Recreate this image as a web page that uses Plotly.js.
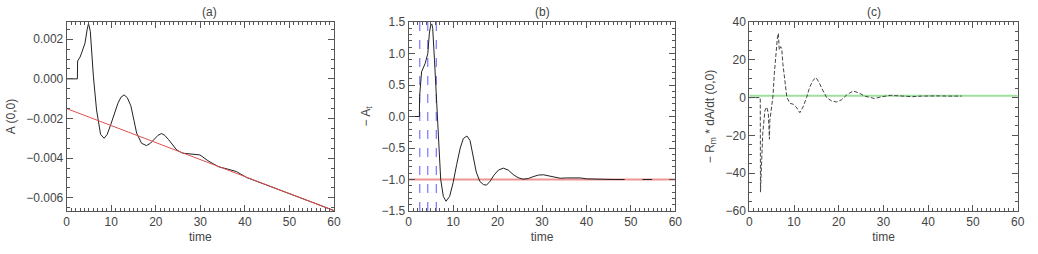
<!DOCTYPE html>
<html>
<head>
<meta charset="utf-8">
<script src="https://cdn.plot.ly/plotly-3.0.1.min.js"></script>
<style>html,body{margin:0;padding:0;background:#fff;}#plot{width:1038px;height:254px;}</style>
</head>
<body>
<div id="plot"></div>
<script>
// Panel (a): A(0,0) vs time
var tA = [0, 2.4, 2.45, 3.0, 3.5, 4.1, 4.6, 4.9, 5.3, 5.7, 6.0, 6.7, 7.6, 8.4, 9.1, 9.9, 10.7, 11.5, 12.2, 12.9, 13.6, 14.4, 15.1, 15.7, 16.8, 17.9, 18.8, 19.6, 20.5, 21.3, 22.0, 22.8, 23.8, 24.7, 26.0, 28.0, 29.9, 31.7, 34.0, 36.2, 38.1, 40.4, 45, 50, 55, 60];
var aVals = [0, 0, 0.0009, 0.0011, 0.0014, 0.0018, 0.0025, 0.0028, 0.0024, 0.0011, 0.0001, -0.00157, -0.0028, -0.0030, -0.0028, -0.0023, -0.00175, -0.00123, -0.00092, -0.00081, -0.00095, -0.00136, -0.0021, -0.00274, -0.00325, -0.00337, -0.00325, -0.00308, -0.00285, -0.00276, -0.00285, -0.00305, -0.00335, -0.00359, -0.00375, -0.00379, -0.00384, -0.00413, -0.00443, -0.00456, -0.00468, -0.00498, -0.00536, -0.00579, -0.00622, -0.00665];
var fitT = [0, 60];
var fitA = [-0.0015, -0.00665];

// Panel (b): -A_t vs time
var tB = [0, 2.4, 2.45, 2.9, 3.7, 4.3, 4.65, 4.95, 5.2, 5.4, 5.8, 6.3, 6.7, 7.2, 7.8, 8.4, 9.2, 10.0, 10.8, 11.6, 12.3, 13.1, 13.8, 14.5, 15.2, 16.0, 16.8, 17.5, 18.3, 19.2, 20.2, 21.3, 22.4, 23.5, 24.6, 25.7, 26.9, 28.0, 29.2, 30.3, 31.5, 32.8, 34.1, 35.5, 37.1, 38.6, 40.1, 42, 44, 46, 48.6, 50, 52.6, 54.8];
var bVals = [0, 0, 0.32, 0.71, 0.84, 1.0, 1.32, 1.45, 1.47, 1.40, 0.90, 0.26, -0.37, -1.0, -1.27, -1.345, -1.27, -1.05, -0.76, -0.5, -0.35, -0.31, -0.38, -0.62, -0.88, -1.03, -1.08, -1.09, -1.03, -0.93, -0.85, -0.82, -0.85, -0.92, -0.97, -0.995, -0.985, -0.955, -0.93, -0.925, -0.94, -0.965, -0.98, -0.975, -0.97, -0.975, -0.99, -0.995, -0.995, -1.0, -1.0, null, -1.0, -1.0];
var refB = -1;
var markT = [2.5, 4.3, 6.2];

// Panel (c): -R_m * dA/dt (0,0) vs time
var tC = [0, 2.45, 2.5, 3.0, 3.5, 3.9, 4.25, 4.5, 4.6, 5.0, 5.3, 5.6, 5.9, 6.3, 6.5, 6.7, 7.0, 7.25, 7.5, 8.0, 8.4, 9.1, 9.8, 10.5, 11.3, 12.0, 12.8, 13.5, 14.2, 14.9, 15.6, 16.4, 17.3, 18.4, 19.5, 20.6, 21.8, 23.2, 24.5, 25.8, 27.0, 28.0, 29.3, 30.5, 31.5, 32.8, 34.5, 36.5, 38.5, 40.5, 42.5, 44.5, 47.5];
var cVals = [0, 0, -50, -19, -6.7, -5, -8.3, -22, -12, -3, 1, 12.9, 23.4, 32.2, 34, 25.2, 26.9, 26, 18, 5.8, 0, -3, -3.5, -5, -8, -5, 0, 5.5, 9, 10.6, 8, 4, 0, -1.8, -2.3, -1.2, 1.5, 3.5, 2.5, 0.8, 0, -0.5, 0.3, 1.0, 1.2, 1.0, 0.6, 0.5, 0.8, 1.0, 0.9, 0.8, 0.8];
var refC = 1;

var xRange = [0, 60];
var yRangeA = [-0.00667, 0.00287];
var yRangeB = [-1.5, 1.5];
var yRangeC = [-60, 40];

var traces = [
  {x: tA, y: aVals, xaxis: 'x', yaxis: 'y', mode: 'lines', line: {color: '#222', width: 1}},
  {x: fitT, y: fitA, xaxis: 'x', yaxis: 'y', mode: 'lines', line: {color: '#e05050', width: 1}},
  {x: xRange, y: [refB, refB], xaxis: 'x2', yaxis: 'y2', mode: 'lines', line: {color: '#f09595', width: 2}}
];
markT.forEach(function(t){
  traces.push({x: [t, t], y: yRangeB, xaxis: 'x2', yaxis: 'y2', mode: 'lines', line: {color: '#5a5aff', width: 1, dash: 'dash'}});
});
traces.push({x: tB, y: bVals, xaxis: 'x2', yaxis: 'y2', mode: 'lines', line: {color: '#222', width: 1}, connectgaps: false});
traces.push({x: xRange, y: [refC, refC], xaxis: 'x3', yaxis: 'y3', mode: 'lines', line: {color: '#9ee09e', width: 2}});
traces.push({x: tC, y: cVals, xaxis: 'x3', yaxis: 'y3', mode: 'lines', line: {color: '#444', width: 1, dash: '4px,2px'}});

var font = {family: 'Liberation Sans, Arial, sans-serif', size: 12, color: '#444'};
function xax(dom){
  return {domain: dom, range: xRange, dtick: 10, tick0: 0, ticks: 'inside', ticklen: 6, tickcolor: '#555',
    showline: true, linecolor: '#555', linewidth: 1, mirror: 'allticks', showgrid: false, zeroline: false,
    minor: {dtick: 1, ticklen: 3, tickcolor: '#555', ticks: 'inside'},
    tickfont: font, title: {text: 'time', font: font, standoff: 4}, fixedrange: true};
}
function yax(anchor, rng, dt, mdt, fmt, title){
  return {anchor: anchor, domain: [0, 1], range: rng, dtick: dt, tick0: 0, tickformat: fmt, ticks: 'inside', ticklen: 6, tickcolor: '#555',
    showline: true, linecolor: '#555', linewidth: 1, mirror: 'allticks', showgrid: false, zeroline: false,
    minor: {dtick: mdt, ticklen: 3, tickcolor: '#555', ticks: 'inside'},
    tickfont: font, title: {text: title, font: font, standoff: 8}, fixedrange: true};
}

var domA = [66.7/1038, 334/1038];
var domB = [408.7/1038, 675.3/1038];
var domC = [749.3/1038, 1017.7/1038];

var layout = {
  width: 1038, height: 254,
  margin: {l: 0, r: 0, t: 22, b: 43},
  paper_bgcolor: '#fff', plot_bgcolor: '#fff',
  showlegend: false,
  font: font,
  xaxis: Object.assign(xax(domA), {anchor: 'y'}),
  xaxis2: Object.assign(xax(domB), {anchor: 'y2'}),
  xaxis3: Object.assign(xax(domC), {anchor: 'y3'}),
  yaxis: yax('x', yRangeA, 0.002, 0.0005, '.3f', 'A (0,0)'),
  yaxis2: yax('x2', yRangeB, 0.5, 0.1, '.1f', '\u2212 A<sub>t</sub>'),
  yaxis3: yax('x3', yRangeC, 20, 5, 'd', '\u2212 R<sub>m</sub> * dA/dt (0,0)'),
  annotations: [
    {text: '(a)', xref: 'paper', yref: 'paper', x: (domA[0]+domA[1])/2, y: 1, yanchor: 'bottom', yshift: 1, showarrow: false, font: font},
    {text: '(b)', xref: 'paper', yref: 'paper', x: (domB[0]+domB[1])/2, y: 1, yanchor: 'bottom', yshift: 1, showarrow: false, font: font},
    {text: '(c)', xref: 'paper', yref: 'paper', x: (domC[0]+domC[1])/2, y: 1, yanchor: 'bottom', yshift: 1, showarrow: false, font: font}
  ]
};

Plotly.newPlot('plot', traces, layout, {staticPlot: true, displayModeBar: false});
</script>
</body>
</html>
